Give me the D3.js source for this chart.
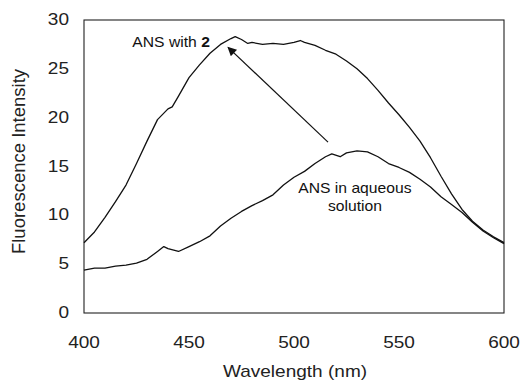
<!DOCTYPE html>
<html>
<head>
<meta charset="utf-8">
<script src="https://cdn.jsdelivr.net/npm/d3@7"></script>
<style>
  body { margin: 0; background: #fff; }
  svg { display: block; font-family: "Liberation Sans", Arial, sans-serif; }
</style>
</head>
<body>
<svg id="chart"></svg>
<script>
const width = 526
const height = 382

// emission spectra (nm, intensity)
const wavelengthWith2 = [400, 405, 410, 415, 420, 425, 430, 435, 440, 442, 445, 450, 455, 460, 465, 470, 472, 475, 478, 480, 485, 490, 495, 500, 503, 505, 510, 515, 520, 525, 530, 535, 540, 545, 550, 555, 560, 565, 570, 575, 580, 585, 590, 595, 600]
const intensityWith2 = [7.2, 8.3, 9.8, 11.4, 13.1, 15.3, 17.6, 19.8, 20.9, 21.1, 22.2, 24.1, 25.4, 26.6, 27.5, 28.1, 28.3, 28.0, 27.6, 27.7, 27.5, 27.6, 27.5, 27.7, 27.9, 27.7, 27.4, 26.9, 26.5, 25.8, 25.0, 24.0, 22.8, 21.5, 20.3, 19.0, 17.6, 15.9, 14.0, 12.2, 10.6, 9.4, 8.5, 7.8, 7.2]

const wavelengthAqueous = [400, 405, 410, 415, 420, 425, 430, 435, 438, 440, 445, 450, 455, 460, 465, 470, 475, 480, 485, 490, 495, 500, 505, 510, 515, 518, 522, 525, 530, 535, 540, 545, 550, 555, 560, 565, 570, 575, 580, 585, 590, 595, 600]
const intensityAqueous = [4.4, 4.6, 4.6, 4.8, 4.9, 5.1, 5.5, 6.3, 6.8, 6.6, 6.3, 6.8, 7.3, 7.9, 8.9, 9.7, 10.4, 11.0, 11.5, 12.1, 13.1, 13.9, 14.5, 15.3, 16.0, 16.3, 16.0, 16.4, 16.6, 16.5, 16.0, 15.3, 14.9, 14.4, 13.7, 12.9, 11.9, 11.1, 10.3, 9.3, 8.4, 7.7, 7.1]

const xTicks = [400, 450, 500, 550, 600]
const yTicks = [0, 5, 10, 15, 20, 25, 30]

// annotations in data units
const arrowFrom = [516.2, 17.5]
const arrowTo = [468.6, 27.2]
const labelWith2 = { x: 423, y: 27.2 }
const labelAqueous = [{ text: "ANS in aqueous", x: 529, y: 12.3 }, { text: "solution", x: 529, y: 10.4 }]

const margin = { top: 20, right: 22, bottom: 69, left: 84 }

const x = d3.scaleLinear().domain([400, 600]).range([margin.left, width - margin.right])
const y = d3.scaleLinear().domain([0, 30]).range([height - margin.bottom, margin.top])

const svg = d3.select("#chart")
  .attr("width", width)
  .attr("height", height)
  .attr("viewBox", [0, 0, width, height])

const stretch = 1.12

// frame
svg.append("rect")
  .attr("x", x(400))
  .attr("y", y(30))
  .attr("width", x(600) - x(400))
  .attr("height", y(0) - y(30))
  .attr("fill", "none")
  .attr("stroke", "#222")
  .attr("stroke-width", 1.1)

// tick labels
svg.append("g")
  .selectAll("text")
  .data(xTicks)
  .join("text")
  .attr("transform", d => `translate(${x(d)},348) scale(${stretch},1)`)
  .attr("text-anchor", "middle")
  .attr("font-size", 17)
  .attr("fill", "#222")
  .text(d => d)

svg.append("g")
  .selectAll("text")
  .data(yTicks)
  .join("text")
  .attr("transform", d => `translate(69,${y(d) + 5}) scale(${stretch},1)`)
  .attr("text-anchor", "end")
  .attr("font-size", 17)
  .attr("fill", "#222")
  .text(d => d)

// axis titles
svg.append("text")
  .attr("transform", `translate(${(x(400) + x(600)) / 2 + 1},377) scale(${stretch},1)`)
  .attr("text-anchor", "middle")
  .attr("font-size", 17)
  .attr("fill", "#222")
  .text("Wavelength (nm)")

svg.append("text")
  .attr("transform", `translate(25,${(y(0) + y(30)) / 2 - 5}) rotate(-90)`)
  .attr("text-anchor", "middle")
  .attr("font-size", 18.5)
  .attr("fill", "#222")
  .text("Fluorescence Intensity")

// spectra
const line = d3.line()
  .x(d => x(d[0]))
  .y(d => y(d[1]))

const series = [
  d3.zip(wavelengthWith2, intensityWith2),
  d3.zip(wavelengthAqueous, intensityAqueous)
]

svg.append("g")
  .selectAll("path")
  .data(series)
  .join("path")
  .attr("d", line)
  .attr("fill", "none")
  .attr("stroke", "#111")
  .attr("stroke-width", 1.3)
  .attr("stroke-linejoin", "round")

// arrow
svg.append("defs").append("marker")
  .attr("id", "head")
  .attr("viewBox", "0 0 10 10")
  .attr("refX", 9)
  .attr("refY", 5)
  .attr("markerWidth", 13)
  .attr("markerHeight", 9)
  .attr("markerUnits", "userSpaceOnUse")
  .attr("orient", "auto")
  .append("path")
  .attr("d", "M0,0 L10,5 L0,10 Z")
  .attr("fill", "#111")

svg.append("line")
  .attr("x1", x(arrowFrom[0]))
  .attr("y1", y(arrowFrom[1]))
  .attr("x2", x(arrowTo[0]))
  .attr("y2", y(arrowTo[1]))
  .attr("stroke", "#111")
  .attr("stroke-width", 1.2)
  .attr("marker-end", "url(#head)")

// annotations
const t = svg.append("text")
  .attr("transform", `translate(${x(labelWith2.x)},${y(labelWith2.y)}) scale(${stretch},1)`)
  .attr("font-size", 14)
  .attr("fill", "#111")
t.append("tspan").text("ANS with ")
t.append("tspan").attr("font-weight", "bold").text("2")

svg.append("g")
  .selectAll("text")
  .data(labelAqueous)
  .join("text")
  .attr("transform", d => `translate(${x(d.x)},${y(d.y)}) scale(${stretch},1)`)
  .attr("text-anchor", "middle")
  .attr("font-size", 14)
  .attr("fill", "#111")
  .text(d => d.text)
</script>
</body>
</html>
